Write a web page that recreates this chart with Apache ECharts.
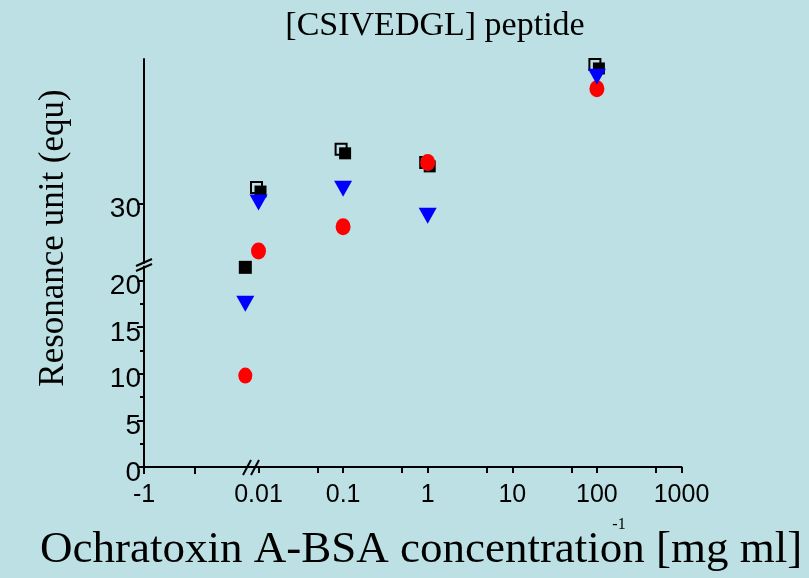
<!DOCTYPE html>
<html>
<head>
<meta charset="utf-8">
<script src="https://cdn.jsdelivr.net/npm/echarts@6/dist/echarts.min.js"></script>
<style>
  html, body { margin: 0; padding: 0; background: #bce0e3; }
  #chart { width: 809px; height: 578px; }
</style>
</head>
<body>
<div id="chart"></div>
<script>
// Blank (no Ochratoxin A-BSA) readings, drawn on the short linear segment left of the axis break
const blankX = [1];
const blankSquare = [21.4];
const blankTriangle = [17.5];
const blankCircle = [9.8];

// Concentrations on the logarithmic segment [mg ml-1]
const concentrations = [0.01, 0.1, 1, 100];
const squareValues = [31.5, 35.6, 34.2, 44.7];
const triangleValues = [30.1, 31.6, 28.7, 43.6];
const circleValues = [24.9, 27.5, 34.4, 42.3];

// Tick positions and labels
const lowerYTicks = [0, 5, 10, 15, 20];
const lowerYMinorTicks = [2.5, 7.5, 12.5, 17.5];
const upperYTicks = [30];
const blankXTicks = [-1, 0];
const blankXLabels = [-1];
const logXLabels = [0.01, 0.1, 1, 10, 100, 1000];
const logXTicks = [0.01, 0.05, 0.1, 0.5, 1, 5, 10, 50, 100, 500, 1000];

// Layout (pixels)
const AX_LEFT = 144, X_BREAK = 258.5, X_END = 681.5;
const AX_BOTTOM = 467, LOW_TOP = 266.4, UP_BOTTOM = 263, AX_TOP = 59;

const pairs = (xs, ys) => xs.map((x, i) => [x, ys[i]]);

const sansFont = '"Liberation Sans", Arial, sans-serif';
const serifFont = '"Liberation Serif", "Times New Roman", serif';
const black = '#000';
const red = '#ff0000';
const blue = '#0000ff';

const lineStyle = { color: black, width: 2 };
const axisLine = { show: true, onZero: false, lineStyle };
const hidden = { show: false };

// y tick labels sit a little below their ticks
const yLabel = values => ({
  customValues: values, fontSize: 28, fontFamily: sansFont, color: black, margin: 3,
  verticalAlign: 'top', lineHeight: 12
});
const xLabel = values => ({
  customValues: values, fontSize: 25, fontFamily: sansFont, color: black, margin: 16
});

const chart = echarts.init(document.getElementById('chart'));

chart.setOption({
  backgroundColor: '#bce0e3',
  animation: false,
  grid: [
    // lower part of the left (blank) segment
    { left: AX_LEFT, top: LOW_TOP, width: X_BREAK - AX_LEFT, height: AX_BOTTOM - LOW_TOP },
    // upper part of the y axis above the break
    { left: AX_LEFT, top: AX_TOP, width: X_BREAK - AX_LEFT, height: UP_BOTTOM - AX_TOP },
    // logarithmic concentration segment
    { left: X_BREAK, top: AX_TOP, width: X_END - X_BREAK, height: AX_BOTTOM - AX_TOP }
  ],
  xAxis: [
    {
      gridIndex: 0, type: 'value', min: -1, max: 1.26,
      axisLine,
      axisTick: { show: true, length: 7, lineStyle, customValues: blankXTicks },
      axisLabel: xLabel(blankXLabels),
      splitLine: hidden
    },
    { gridIndex: 1, type: 'value', min: -1, max: 1.26, show: false },
    {
      gridIndex: 2, type: 'log', logBase: 10, min: 0.01, max: 1000,
      axisLine,
      axisTick: { show: true, length: 6, lineStyle, customValues: logXTicks },
      axisLabel: Object.assign(xLabel(logXLabels), {
        formatter: v => String(+Number(v).toPrecision(6))
      }),
      minorTick: hidden,
      splitLine: hidden
    }
  ],
  yAxis: [
    {
      gridIndex: 0, type: 'value', min: 0, max: 21.5,
      axisLine,
      axisTick: { show: true, length: 7, lineStyle, customValues: lowerYTicks },
      axisLabel: yLabel(lowerYTicks),
      splitLine: hidden
    },
    {
      gridIndex: 0, type: 'value', min: 0, max: 21.5, position: 'left',
      axisLine: { show: false, onZero: false },
      axisTick: { show: true, length: 4, lineStyle, customValues: lowerYMinorTicks },
      axisLabel: hidden,
      splitLine: hidden
    },
    {
      gridIndex: 1, type: 'value', min: 23.6, max: 45.5,
      axisLine,
      axisTick: { show: true, length: 7, lineStyle, customValues: upperYTicks },
      axisLabel: yLabel(upperYTicks),
      splitLine: hidden
    },
    { gridIndex: 2, type: 'value', min: 1.75, max: 45.5, show: false }
  ],
  series: [
    // blank column
    {
      type: 'scatter', xAxisIndex: 0, yAxisIndex: 0, clip: false,
      symbol: 'rect', symbolSize: 13, itemStyle: { color: black, opacity: 1 },
      data: pairs(blankX, blankSquare)
    },
    {
      type: 'scatter', xAxisIndex: 0, yAxisIndex: 0, clip: false,
      symbol: 'circle', symbolSize: [14, 16], itemStyle: { color: red, opacity: 1 },
      data: pairs(blankX, blankCircle)
    },
    {
      type: 'scatter', xAxisIndex: 0, yAxisIndex: 0, clip: false,
      symbol: 'triangle', symbolRotate: 180, symbolSize: [18, 16], itemStyle: { color: blue, opacity: 1 },
      data: pairs(blankX, blankTriangle)
    },
    // concentration series: square drawn as an open outline with a filled square behind it
    {
      type: 'scatter', xAxisIndex: 2, yAxisIndex: 3, clip: false,
      symbol: 'rect', symbolSize: 12, symbolOffset: [2, 2], itemStyle: { color: black, opacity: 1 },
      data: pairs(concentrations, squareValues)
    },
    {
      type: 'scatter', xAxisIndex: 2, yAxisIndex: 3, clip: false,
      symbol: 'rect', symbolSize: 11, symbolOffset: [-2, -2],
      itemStyle: { color: 'transparent', borderColor: black, borderWidth: 2, opacity: 1 },
      data: pairs(concentrations, squareValues)
    },
    {
      type: 'scatter', xAxisIndex: 2, yAxisIndex: 3, clip: false,
      symbol: 'circle', symbolSize: [15, 17], itemStyle: { color: red, opacity: 1 },
      data: pairs(concentrations, circleValues)
    },
    {
      type: 'scatter', xAxisIndex: 2, yAxisIndex: 3, clip: false,
      symbol: 'triangle', symbolRotate: 180, symbolSize: [18, 16], itemStyle: { color: blue, opacity: 1 },
      data: pairs(concentrations, triangleValues)
    }
  ],
  graphic: [
    // break marks on the y axis
    { type: 'line', shape: { x1: 136, y1: 266, x2: 152, y2: 259 }, style: { stroke: black, lineWidth: 2 } },
    { type: 'line', shape: { x1: 136, y1: 271, x2: 152, y2: 264 }, style: { stroke: black, lineWidth: 2 } },
    // break marks on the x axis
    { type: 'line', shape: { x1: 243, y1: 475, x2: 251, y2: 460 }, style: { stroke: black, lineWidth: 2 } },
    { type: 'line', shape: { x1: 251, y1: 475, x2: 259, y2: 460 }, style: { stroke: black, lineWidth: 2 } },
    // chart title
    {
      type: 'text', x: 435, y: 26,
      style: { text: '[CSIVEDGL] peptide', fontSize: 34, fontFamily: serifFont, fill: black, align: 'center', verticalAlign: 'middle' }
    },
    // y axis title
    {
      type: 'text', x: 54, y: 238, rotation: Math.PI / 2,
      style: { text: 'Resonance unit (equ)', fontSize: 35, fontFamily: serifFont, fill: black, align: 'center', verticalAlign: 'middle' }
    },
    // x axis title with the unit exponent
    {
      type: 'text', x: 40, y: 550,
      style: { text: 'Ochratoxin A-BSA concentration [mg ml]', fontSize: 45, fontFamily: serifFont, fill: black, align: 'left', verticalAlign: 'middle' }
    },
    {
      type: 'text', x: 619, y: 525,
      style: { text: '-1', fontSize: 16, fontFamily: serifFont, fill: black, align: 'center', verticalAlign: 'middle' }
    }
  ]
});
</script>
</body>
</html>
